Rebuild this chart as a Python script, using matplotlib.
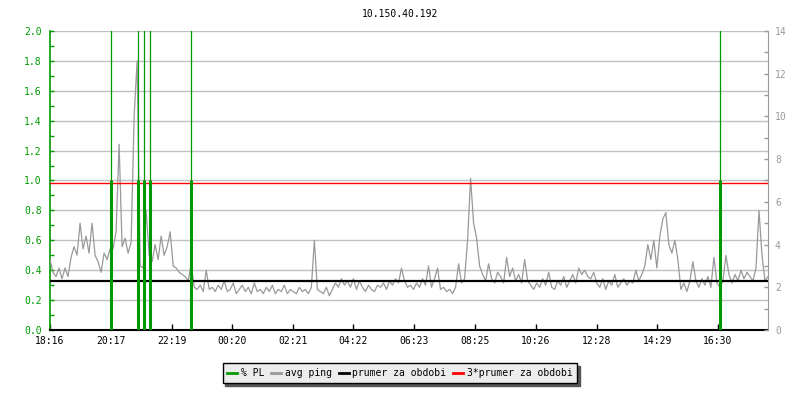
import numpy as np
import matplotlib.pyplot as plt
from matplotlib.lines import Line2D

TITLE = '10.150.40.192'

# time axis labels (minutes are counted from the first label)
time_labels = ['18:16', '20:17', '22:19', '00:20', '02:21', '04:22',
               '06:23', '08:25', '10:26', '12:28', '14:29', '16:30']

# avg ping [ms], one sample every 6 minutes
ping_ms = [
    3.3, 2.7, 2.5, 2.9, 2.4, 2.9, 2.5, 3.4, 3.9, 3.5,
    5.0, 3.8, 4.4, 3.6, 5.0, 3.5, 3.2, 2.7, 3.6, 3.3,
    3.8, 3.8, 4.6, 8.7, 3.9, 4.3, 3.6, 4.1, 10.0, 12.6,
    3.0, 2.9, 5.6, 3.5, 3.2, 4.0, 3.3, 4.4, 3.5, 3.9,
    4.6, 3.0, 2.9, 2.7, 2.6, 2.5, 2.3, 3.1, 2.0, 1.9,
    2.1, 1.8, 2.8, 1.9, 2.0, 1.8, 2.1, 1.9, 2.3, 1.8,
    1.9, 2.2, 1.7, 1.9, 2.1, 1.8, 2.0, 1.7, 2.2, 1.8,
    1.9, 1.7, 2.0, 1.8, 2.1, 1.7, 1.9, 1.8, 2.1, 1.7,
    1.9, 1.8, 1.7, 2.0, 1.8, 1.9, 1.7, 2.0, 4.2, 1.9,
    1.8, 1.7, 2.0, 1.6, 1.9, 2.2, 2.0, 2.4, 2.1, 2.3,
    2.0, 2.4, 1.9, 2.3, 2.0, 1.8, 2.1, 1.9, 1.8, 2.1,
    2.0, 2.2, 1.9, 2.3, 2.1, 2.4, 2.2, 2.9, 2.3, 2.0,
    2.1, 1.9, 2.2, 2.0, 2.4, 2.1, 3.0, 2.0, 2.4, 2.9,
    1.9, 2.0, 1.8, 1.9, 1.7, 2.0, 3.1, 2.2, 2.4, 4.2,
    7.1, 5.0, 4.3, 3.0, 2.6, 2.3, 3.1, 2.4, 2.2, 2.7,
    2.5, 2.2, 3.4, 2.5, 2.9, 2.3, 2.6, 2.2, 3.3, 2.3,
    2.1, 1.9, 2.2, 2.0, 2.4, 2.1, 2.7, 2.0, 1.9, 2.3,
    2.1, 2.5, 2.0, 2.3, 2.6, 2.2, 2.9, 2.6, 2.8, 2.5,
    2.4, 2.7, 2.2, 2.0, 2.4, 1.9, 2.3, 2.1, 2.6, 2.0,
    2.2, 2.4, 2.1, 2.3, 2.2, 2.8, 2.3, 2.6, 3.0, 4.0,
    3.3, 4.2, 2.9, 4.4, 5.2, 5.5, 4.0, 3.6, 4.2, 3.3,
    1.9, 2.2, 1.8, 2.3, 3.2, 2.3, 2.0, 2.4, 2.1, 2.5,
    2.0, 3.4, 2.2, 2.0, 2.3, 3.5, 2.6, 2.2, 2.6, 2.3,
    2.8, 2.4, 2.7, 2.5, 2.3, 2.9, 5.6, 3.5, 2.3, 2.5,
]
STEP_MIN = 6

# packet loss events [min from start], value in %
pl_minutes = [122, 176, 188, 200, 282, 1338]
pl_percent = [10, 10, 10, 10, 10, 10]
pl_base = 1.0   # the heavy part of the PL bar

avg_ping = 2.3            # prumer za obdobi
avg_ping_3 = 3 * avg_ping  # 3*prumer za obdobi

GREEN = '#009900'
GREY = '#999999'
MONO = 'DejaVu Sans Mono'


def to_minutes(label, start):
    h, m = map(int, label.split(':'))
    sh, sm = map(int, start.split(':'))
    return ((h * 60 + m) - (sh * 60 + sm)) % 1440


def main():
    plt.rcParams['font.family'] = MONO
    plt.rcParams['font.size'] = 7

    fig = plt.figure(figsize=(8, 4), dpi=100)
    ax = fig.add_axes([0.0625, 0.175, 0.8975, 0.7475])
    ax2 = ax.twinx()

    t = np.arange(len(ping_ms)) * STEP_MIN
    ticks = [to_minutes(s, time_labels[0]) for s in time_labels]

    # left axis: % PL
    ax.set_xlim(0, 1434)
    ax.set_ylim(0, 2.0)
    ax.set_yticks(np.arange(0, 2.01, 0.2))
    ax.set_yticks(np.arange(0, 2.01, 0.1), minor=True)
    ax.yaxis.set_major_formatter(plt.FormatStrFormatter('%.1f'))
    ax.grid(axis='y', color='#c0c0c0', lw=1.0)
    ax.set_xticks(ticks)
    ax.set_xticklabels(time_labels)
    ax.tick_params(axis='x', direction='in', length=4, width=1, colors='black', pad=4)
    ax.tick_params(axis='y', which='both', direction='in', length=3, width=1,
                   colors=GREEN, pad=6)
    ax.spines['left'].set_color(GREEN)
    ax.spines['left'].set_linewidth(1.2)
    ax.spines['bottom'].set_color('black')
    ax.spines['bottom'].set_linewidth(1.5)
    ax.spines['top'].set_visible(False)
    ax.spines['right'].set_visible(False)

    # right axis: ping
    ax2.set_ylim(0, 14)
    ax2.set_yticks(np.arange(0, 15, 2))
    ax2.set_yticks(np.arange(0, 15, 1), minor=True)
    ax2.tick_params(axis='y', which='both', direction='in', length=3, width=1,
                    colors=GREY, pad=5)
    for s in ['left', 'top', 'bottom']:
        ax2.spines[s].set_visible(False)
    ax2.spines['right'].set_color(GREY)

    ax2.plot(t, ping_ms, color=GREY, lw=0.9)
    ax2.axhline(avg_ping, color='black', lw=1.6)
    ax2.axhline(avg_ping_3, color='red', lw=1.0)

    # PL drawn in the left axis scale, on top of everything
    ax2.vlines(pl_minutes, 0, pl_percent, color=GREEN, lw=0.9,
               transform=ax.transData)
    ax2.vlines(pl_minutes, 0, [min(p, pl_base) for p in pl_percent],
               color=GREEN, lw=2.2, transform=ax.transData)
    ax2.set_ylim(0, 14)

    fig.text(0.5, 1 - 14 / 400, TITLE, ha='center', va='center')

    handles = [Line2D([], [], color=GREEN, lw=2),
               Line2D([], [], color=GREY, lw=2),
               Line2D([], [], color='black', lw=2),
               Line2D([], [], color='red', lw=2)]
    labels = ['% PL', 'avg ping', 'prumer za obdobi', '3*prumer za obdobi']
    leg = fig.legend(handles, labels, loc='center', bbox_to_anchor=(0.5, 0.0675),
                     ncol=4, fancybox=False, shadow={'color': '#555555', 'alpha': 1.0},
                     facecolor='#ececec', edgecolor='black', framealpha=1,
                     handlelength=1.0, handletextpad=0.4, columnspacing=0.7,
                     borderpad=0.5)
    leg.get_frame().set_linewidth(1.0)

    fig.savefig('out.png', dpi=100)


if __name__ == "__main__":
    main()
